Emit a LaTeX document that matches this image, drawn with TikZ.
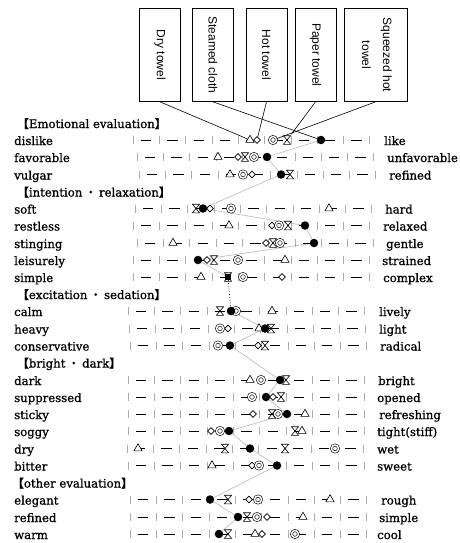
\documentclass[tikz,border=0pt]{standalone}
\usepackage{fontspec}
\setmainfont{DejaVu Serif}
\newfontfamily\lblfont{DejaVu Serif}[FakeBold=0.9]
\newfontfamily\boxfont{Liberation Sans}
\newfontfamily\cjk{Noto Sans CJK JP}[FakeBold=1.5]
\usetikzlibrary{shapes.geometric}
\pgfdeclarelayer{back}
\pgfsetlayers{back,main}
\newcommand{\hopen}{{\cjk 【}}
\newcommand{\hclose}{{\cjk 】}}
\newcommand{\dotsep}{\hspace{2.5pt}{\cjk ・}\hspace{2.5pt}}
\tikzset{
  towel/.style={draw, line width=0.7pt, minimum width=41pt, minimum height=93pt, inner sep=0pt, font=\boxfont\fontsize{12}{14}\selectfont},
  lbl/.style={anchor=base west, inner sep=0pt, font=\lblfont\fontsize{11.7}{13}\selectfont},
  bar/.style={gray!65, line width=0.55pt},
  dsh/.style={black, line width=0.85pt},
  tri/.style={draw, fill=white, regular polygon, regular polygon sides=3, minimum size=9.5pt, inner sep=0pt, line width=0.6pt},
  dia/.style={draw, fill=white, diamond, minimum size=7pt, inner sep=0pt, line width=0.6pt},
  dbl/.style={draw, fill=white, circle, double, double distance=1.5pt, minimum size=7pt, inner sep=0pt, line width=0.6pt},
  hg/.style={minimum width=9pt, minimum height=11pt, inner sep=0pt,
    path picture={\draw[fill=white, line width=0.6pt]
      ([shift={(-3.6pt,4.3pt)}]path picture bounding box.center) -- ++(7.2pt,0pt)
      -- ++(-7.2pt,-8.6pt) -- ++(7.2pt,0pt) -- cycle;}},
  blk/.style={circle, fill=black, minimum size=8.5pt, inner sep=0pt},
  blksq/.style={fill=black, minimum size=6pt, inner sep=0pt},
  prof/.style={gray!50, line width=0.7pt},
}
\begin{document}
\begin{tikzpicture}[x=1pt,y=-1pt]
\useasboundingbox (0,0) rectangle (460,543);

% the five towels
\node[towel] (dry) at (160,55) {\rotatebox{-90}{Dry towel}};
\node[towel] (steam) at (213,55) {\rotatebox{-90}{Steamed cloth}};
\node[towel] (hot) at (266.5,55) {\rotatebox{-90}{Hot towel}};
\node[towel] (paper) at (315.5,55) {\rotatebox{-90}{Paper towel}};
\node[towel, minimum width=63pt] (sqz) at (375.5,55)
  {\rotatebox{-90}{\begin{tabular}{@{}c@{}}Squeezed hot\\[7pt]towel\end{tabular}}};

% group headings
\node[lbl] (g0) at (17,128) {\hopen Emotional evaluation\hclose};
\node[lbl] (g4) at (17,196.5) {\hopen intention\dotsep relaxation\hclose};
\node[lbl] (g10) at (17,299) {\hopen excitation\dotsep sedation\hclose};
\node[lbl] (g14) at (17,367.5) {\hopen bright\dotsep dark\hclose};
\node[lbl] (g21) at (12,487.5) {\hopen other evaluation\hclose};

% word pairs and scales
\foreach \k/\s/\x/\xr/\lname/\rname in {
  1/140/133/385/dislike/like, 2/157/137/388/favorable/unfavorable,
  3/174.5/139/390/vulgar/refined, 5/208.5/135/386/soft/hard,
  6/225.5/133/384/restless/relaxed, 7/243/137/387/stinging/gentle,
  8/260/133/383/leisurely/strained, 9/277/133/384/simple/complex,
  11/311/128/380/calm/lively, 12/328.5/129/380/heavy/light,
  13/345.5/130/381/conservative/radical, 15/380/128/379/dark/bright,
  16/397/128/378/suppressed/opened, 17/414/128/380/sticky/refreshing,
  18/431/128/378/soggy/{tight(stiff)}, 19/448.5/127/378/dry/wet,
  20/465.5/128/378/bitter/sweet, 22/499.5/130/382/elegant/rough,
  23/517/130/380/refined/simple, 24/534/130/378/warm/cool}{
  \node[lbl] (left\k) at (14,\s+5) {\lname};
  \node[lbl] (right\k) at (\xr-1,\s+5) {\rname};
  \foreach \i in {0,...,9}
    \draw[bar] (\x+26.3*\i,\s-4) -- (\x+26.3*\i,\s+4);
  \foreach \i in {0,...,8}
    \draw[dsh] (\x+26.3*\i+8,\s) -- (\x+26.3*\i+18.3,\s);
}

% marks
\foreach \n/\x/\y in {1/250/140, 2/218/157, 3/230/174.5, 5/329/208.5, 6/229/225.5,
  7/173/243, 8/285/260, 9/201/277, 11/272/311, 12/259/328.5, 15/250/380,
  17/305/414, 18/302/431, 19/138/448.5, 20/212/465.5, 22/330/499.5,
  23/303/517, 24/255/534}
  \node[tri] (t\n) at (\x,\y) {};
\foreach \n/\x/\y in {1/257/140, 2/238/157, 3/252/174.5, 5/210/208.5, 6/272/225.5,
  7/266/243, 8/207/260, 9/282/277, 12/228/328.5, 13/258/345.5, 16/273/397,
  17/253/414, 18/211/431, 20/252/465.5, 22/249/499.5, 23/267/517, 24/262/534}
  \node[dia] (d\n) at (\x,\y) {};
\foreach \n/\x/\y in {1/273/140, 2/254/157, 3/243/174.5, 5/231/208.5, 6/279/225.5,
  7/280/243, 8/238/260, 9/243/277, 11/236/311, 12/220/328.5, 13/218/345.5,
  15/261/380, 16/252/397, 17/278/414, 18/220/431, 19/335/448.5, 20/259/465.5,
  22/258/499.5, 23/257/517, 24/295/534}
  \node[dbl] (o\n) at (\x,\y) {};
\foreach \n/\x/\y in {1/287/140, 2/245/157, 3/290/174.5, 5/196/208.5, 6/288/225.5,
  7/273/243, 8/214/260, 9/228/277, 11/220/311, 12/271/328.5, 13/265/345.5,
  15/286/380, 16/281/397, 17/272/414, 18/295/431, 19/225/448.5, 19b/285/448.5,
  22/228/499.5, 23/247/517, 24/228/534}
  \node[hg] (h\n) at (\x,\y) {};
\foreach \n/\x/\y in {1/321/140, 2/267/157, 3/281/174.5, 5/203/208.5, 6/305/225.5,
  7/314/243, 8/198/260, 11/231/311, 12/265/328.5, 13/230/345.5, 15/280/380,
  16/266/397, 17/287/414, 18/229/431, 19/250/448.5, 20/277/465.5,
  22/210/499.5, 23/238/517, 24/219/534}
  \node[blk] (b\n) at (\x,\y) {};
\node[blksq] (b9) at (228,277) {};

% legend lines
\draw[line width=0.6pt] (dry.south) -- (t1);
\draw[line width=0.6pt] (steam.south) -- (b1);
\draw[line width=0.6pt] (hot.south) -- (d1);
\draw[line width=0.6pt] (paper.south) -- (h1);
\draw[line width=0.6pt] (sqz.south) -- (o1);

% profile
\begin{pgfonlayer}{back}
\draw[prof] (b1) -- (b2) -- (b3) -- (b5) -- (b6) -- (b7) -- (b8) -- (b9);
\draw[prof] (b11) -- (b12) -- (b13) -- (b15) -- (b16) -- (b17) -- (b18)
  -- (b19) -- (b20) -- (b22) -- (b23) -- (b24);
\end{pgfonlayer}
\draw[dotted, line width=0.8pt] (b9) -- (b11);
\end{tikzpicture}
\end{document}
